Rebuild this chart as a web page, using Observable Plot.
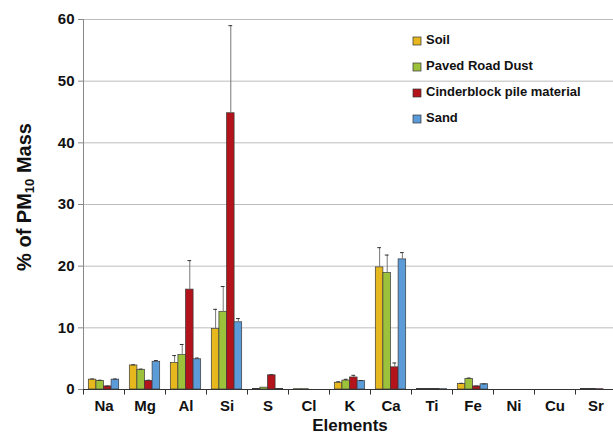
<!DOCTYPE html>
<html><head><meta charset="utf-8">
<script src="https://cdn.jsdelivr.net/npm/d3@7"></script>
<script src="https://cdn.jsdelivr.net/npm/@observablehq/plot@0.6"></script>
<style>body{margin:0;background:#fff;font-family:"Liberation Sans",Arial,sans-serif;overflow:hidden}</style>
</head><body><div id="chart"></div>
<script>
const elements = ["Na","Mg","Al","Si","S","Cl","K","Ca","Ti","Fe","Ni","Cu","Sr"];
const series = ["Soil","Paved Road Dust","Cinderblock pile material","Sand"];
const colors = ["#e6b81e","#9cc23c","#b3141c","#5b9bd8"];
const yTicks = [0,10,20,30,40,50,60];

const soil      = [1.6, 3.9, 4.3,  9.8, 0.1, 0.05, 1.1, 19.8, 0.1, 0.9, 0, 0, 0.1];
const soilErr   = [0.1, 0.1, 1.2,  3.2, 0,   0,    0.15, 3.2, 0,   0.1, 0, 0, 0];
const paved     = [1.4, 3.2, 5.6, 12.6, 0.3, 0.05, 1.45, 18.9, 0.1, 1.7, 0, 0, 0.1];
const pavedErr  = [0.1, 0.1, 1.7,  4.1, 0,   0,    0.2,  2.9, 0,   0.15, 0, 0, 0];
const cinder    = [0.5, 1.4, 16.2, 44.8, 2.3, 0,   1.95, 3.6, 0.1, 0.5, 0, 0, 0.05];
const cinderErr = [0.05, 0.1, 4.7, 14.2, 0.1, 0,   0.35, 0.7, 0,   0.05, 0, 0, 0];
const sand      = [1.6, 4.5, 4.9, 10.9, 0.1, 0,    1.35, 21.1, 0.05, 0.85, 0, 0, 0];
const sandErr   = [0.1, 0.2, 0.2,  0.6, 0,   0,    0.1,  1.1, 0,   0.05, 0, 0, 0];

const values = [soil, paved, cinder, sand];
const errors = [soilErr, pavedErr, cinderErr, sandErr];
const rows = [];
elements.forEach((el, j) => series.forEach((s, i) => rows.push({element: el, series: s, i, value: values[i][j], err: errors[i][j]})));
const errRows = rows.filter(d => d.err > 0);
const xDomain = [-0.7, series.length + 0.7];

const plot = Plot.plot({
  width: 613, height: 434,
  marginLeft: 81, marginRight: -4, marginTop: 19, marginBottom: 45,
  style: {fontFamily: "Liberation Sans, Arial, sans-serif", background: "#fff"},
  fx: {domain: elements, padding: 0, label: null},
  x: {domain: xDomain, axis: null},
  y: {domain: [0, 60], axis: null},
  color: {domain: series, range: colors},
  marks: [
    Plot.ruleY(yTicks.slice(1), {stroke: "#bdbdbd", strokeWidth: 1}),
    Plot.rect(rows, {fx: "element", x1: "i", x2: d => d.i + 1, y1: 0, y2: "value", fill: "series", stroke: "#3a3a3a", strokeWidth: 0.7}),
    Plot.ruleX(errRows, {fx: "element", x: d => d.i + 0.5, y1: "value", y2: d => d.value + d.err, stroke: "#777"}),
    Plot.ruleY(errRows, {fx: "element", x1: d => d.i + 0.25, x2: d => d.i + 0.75, y: d => d.value + d.err, stroke: "#333"}),
    Plot.ruleY([0], {stroke: "#333"}),
    Plot.ruleX(elements, {fx: d => d, x: xDomain[0], y1: 0, y2: -0.9, stroke: "#333"}),
    Plot.ruleX(elements.slice(0, 1), {fx: d => d, x: xDomain[0], y1: 0, y2: 60, stroke: "#888"}),
    Plot.axisY(yTicks, {anchor: "left", tickSize: 5, tickPadding: 4, fontSize: 15, fontWeight: "bold", stroke: "#888", fill: "#111", label: null}),
    Plot.axisFx({anchor: "bottom", tickSize: 0, tickPadding: 11, fontSize: 15, fontWeight: "bold", fill: "#111", label: null}),
    Plot.text([{fx: "K", t: "Elements"}], {fx: "fx", text: "t", frameAnchor: "bottom", dy: 41, fontSize: 17, fontWeight: "bold", fill: "#111"})
  ]
});
document.getElementById("chart").append(plot);

const svg = d3.select(plot);
// y-axis title with subscript
const yt = svg.append("text")
  .attr("transform", "translate(26,197) rotate(-90)")
  .attr("text-anchor", "middle")
  .attr("dominant-baseline", "middle")
  .attr("font-size", 20).attr("font-weight", "bold").attr("fill", "#111");
yt.append("tspan").text("% of PM");
yt.append("tspan").attr("font-size", 13).attr("dy", 5).text("10");
yt.append("tspan").attr("dy", -5).text(" Mass");

// legend
const lg = svg.append("g").attr("transform", "translate(413,41)").attr("text-anchor", "start");
series.forEach((s, i) => {
  const g = lg.append("g").attr("transform", `translate(0,${i * 26})`);
  g.append("rect").attr("x", 0).attr("y", -4).attr("width", 8).attr("height", 8)
    .attr("fill", colors[i]).attr("stroke", "#333").attr("stroke-width", 0.7);
  g.append("text").attr("x", 13).attr("text-anchor", "start").attr("dominant-baseline", "middle")
    .attr("font-size", 13).attr("font-weight", "bold").attr("fill", "#111").text(s);
});
</script></body></html>
